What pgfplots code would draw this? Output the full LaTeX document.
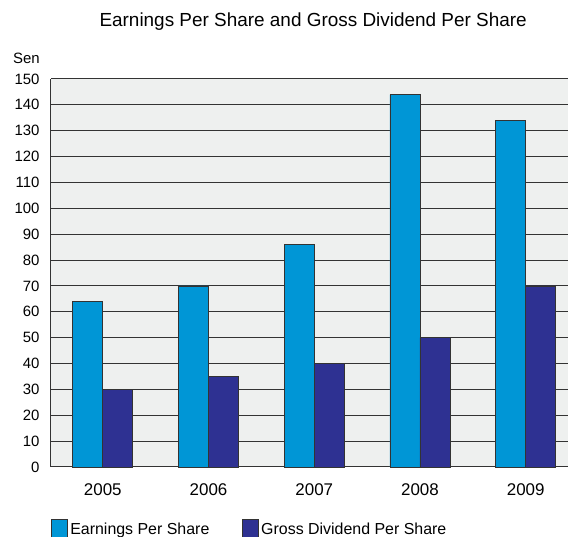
\documentclass[border=0pt]{standalone}
\usepackage{pgfplots}
\pgfplotsset{compat=1.18}
\usepackage{fontspec}
\setmainfont{Liberation Sans}
\definecolor{eps}{HTML}{0096D6}
\definecolor{gdps}{HTML}{2E3192}
\definecolor{bg}{HTML}{EEF0EF}
\definecolor{gridc}{HTML}{333333}
\begin{document}
\begin{tikzpicture}[x=1bp,y=1bp]
\useasboundingbox (-51,-70) rectangle (518,467);
\begin{axis}[
  at={(0,0)}, anchor=south west,
  scale only axis, width=517bp, height=388bp,
  clip=false,
  ybar=0pt, bar width=30bp,
  xmin=-0.49, xmax=4.40, ymin=0, ymax=150,
  xtick={0,1,2,3,4}, xticklabels={2005,2006,2007,2008,2009},
  ytick={0,10,...,150},
  axis x line*=bottom, axis y line*=left,
  axis line style={line width=1bp, gridc, -},
  major tick length=0pt,
  ymajorgrids, grid style={gridc, line width=1bp},
  axis background/.style={fill=bg},
  yticklabel style={font=\fontsize{15}{17}\selectfont, text=black, xshift=-8bp},
  xticklabel style={font=\fontsize{17}{19}\selectfont, text=black, yshift=-13bp},
  /pgf/number format/assume math mode=true,
  legend columns=2,
  legend style={at={(0,-52bp)}, anchor=north west, draw=none, fill=none,
    font=\fontsize{16}{18}\selectfont, inner sep=0pt, outer sep=0pt,
    nodes={inner sep=2.5bp},
    /tikz/every even column/.append style={column sep=30bp}},
  legend image code/.code={\draw[#1, draw=gridc, line width=0.8bp] (0bp,-8bp) rectangle (16bp,10bp);},
]
\addplot[fill=eps, draw=gridc, line width=0.8bp] coordinates {(0,64) (1,70) (2,86) (3,144) (4,134)};
\addplot[fill=gdps, draw=gridc, line width=0.8bp] coordinates {(0,30) (1,35) (2,40) (3,50) (4,70)};
\legend{Earnings Per Share, Gross Dividend Per Share}
\node[font=\fontsize{19}{22}\selectfont, anchor=center] at (rel axis cs:0.507,1) [yshift=57bp] {Earnings Per Share and Gross Dividend Per Share};
\node[font=\fontsize{15}{17}\selectfont, anchor=west, inner sep=0pt] at (rel axis cs:0,1) [xshift=-38bp, yshift=21bp] {Sen};
\end{axis}
\end{tikzpicture}
\end{document}
